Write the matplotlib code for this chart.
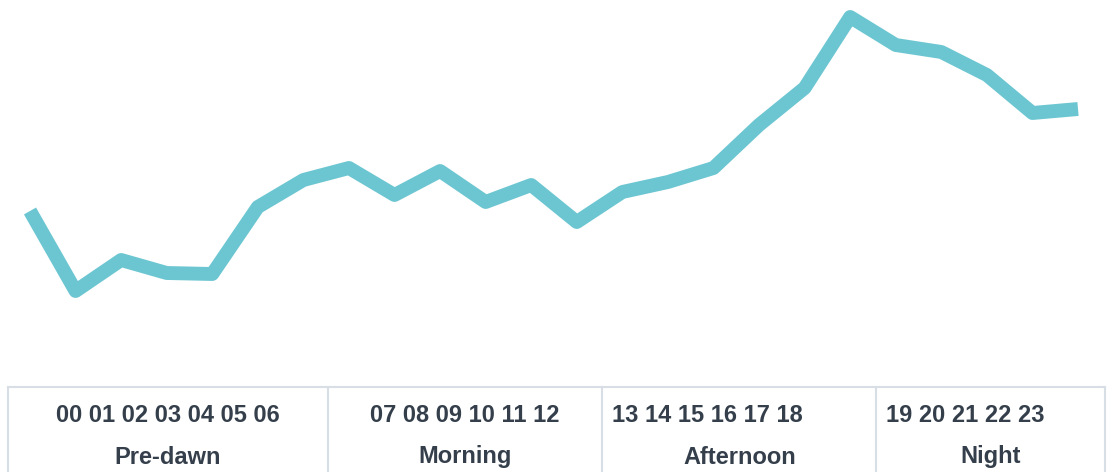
import matplotlib.pyplot as plt

hours = ["00", "01", "02", "03", "04", "05", "06", "07", "08", "09", "10", "11",
         "12", "13", "14", "15", "16", "17", "18", "19", "20", "21", "22", "23"]
values = [89, 9, 40, 27, 26, 93, 120, 132, 105, 129, 98, 115,
          78, 108, 118, 132, 175, 212, 283, 255, 248, 225, 187, 191]

periods = ["Pre-dawn", "Morning", "Afternoon", "Night"]
period_hours = [7, 6, 6, 5]
centered_hours = [True, True, False, False]

W, H = 1119, 472
fig = plt.figure(figsize=(W / 100, H / 100), dpi=100)
plt.rcParams["font.family"] = ["Liberation Sans", "DejaVu Sans"]

# line chart, top part of the figure
ax = fig.add_axes([0, 1 - 380 / H, 1, 380 / H])
ax.plot(range(len(values)), values, color="#6cc6d1", lw=10,
        solid_joinstyle="round", solid_capstyle="butt")
step = (1078 - 30) / (len(values) - 1)
ax.set_xlim(-30 / step, len(values) - 1 + (W - 1078) / step)
ax.set_ylim(-80, 300)
ax.axis("off")

# period table along the bottom
tab = fig.add_axes([0, 0, 1, 1], zorder=-1)
tab.set_xlim(0, W)
tab.set_ylim(H, 0)
tab.axis("off")

left, right, top = 8, 1105, 387
per_hour = (right - left) / len(hours)
border = "#d8dee6"
tab.plot([left, right], [top, top], color=border, lw=1.5)
tab.plot([left, left], [top, H], color=border, lw=1.5)
tab.plot([right, right], [top, H], color=border, lw=1.5)

start = 0
for name, n, centered in zip(periods, period_hours, centered_hours):
    x0 = left + start * per_hour
    x1 = left + (start + n) * per_hour
    if start > 0:
        tab.plot([x0, x0], [top, H], color=border, lw=1.5)
    label = " ".join(hours[start:start + n])
    if centered:
        tab.text((x0 + x1) / 2, 415, label, ha="center", va="center",
                 fontsize=17, fontweight="bold", color="#343f4b")
    else:
        tab.text(x0 + 10, 415, label, ha="left", va="center",
                 fontsize=17, fontweight="bold", color="#343f4b")
    tab.text((x0 + x1) / 2, 457, name, ha="center", va="center",
             fontsize=17, fontweight="bold", color="#343f4b")
    start += n

fig.savefig("out.png", dpi=100)
